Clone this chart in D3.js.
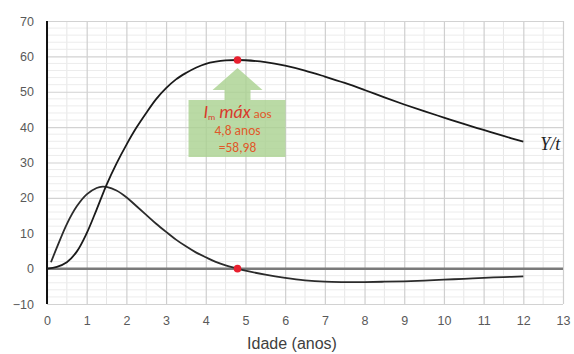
<!DOCTYPE html>
<html>
<head>
<meta charset="utf-8">
<script src="https://cdn.jsdelivr.net/npm/d3@7"></script>
<style>
  html, body { margin: 0; padding: 0; background: #fff; }
  svg { display: block; }
</style>
</head>
<body>
<svg id="chart" width="574" height="354"></svg>
<script>
// Incremento médio (Y/t) ao longo da idade
const ageYt = [0, 0.25, 0.5, 0.75, 1.0, 1.25, 1.5, 1.75, 2.0, 2.25, 2.5, 2.75, 3.0, 3.25, 3.5, 3.75, 4.0, 4.25, 4.5, 4.8,
               5.0, 5.5, 6.0, 6.5, 7.0, 7.5, 8.0, 8.5, 9.0, 9.5, 10.0, 10.5, 11.0, 11.5, 12.0];
const valYt = [0, 0.5, 1.8, 4.8, 10.0, 16.7, 23.7, 29.7, 35.0, 39.8, 44.0, 47.9, 51.0, 53.5, 55.3, 56.8, 57.9, 58.5, 58.85, 58.98,
               58.9, 58.4, 57.4, 56.0, 54.3, 52.5, 50.5, 48.4, 46.4, 44.5, 42.7, 40.9, 39.2, 37.5, 35.9];

// Variação do incremento médio (derivada de Y/t)
const ageDer = [0.1, 0.25, 0.5, 0.75, 1.0, 1.25, 1.4, 1.5, 1.75, 2.0, 2.25, 2.5, 2.75, 3.0, 3.25, 3.5, 3.75, 4.0, 4.25, 4.5, 4.8,
                5.0, 5.5, 6.0, 6.5, 7.0, 7.5, 8.0, 8.5, 9.0, 9.5, 10.0, 10.5, 11.0, 11.5, 12.0];
const valDer = [1.8, 6.0, 12.6, 17.6, 21.0, 22.8, 23.2, 23.1, 22.1, 20.2, 17.7, 15.2, 12.7, 10.4, 8.2, 6.3, 4.6, 3.2, 1.9, 0.9, 0,
                -0.6, -1.7, -2.6, -3.3, -3.7, -3.8, -3.8, -3.7, -3.6, -3.4, -3.1, -2.9, -2.6, -2.4, -2.2];

// Máximo do incremento médio
const peakAge = 4.8;
const peakVal = 58.98;

const xTicks = [0, 1, 2, 3, 4, 5, 6, 7, 8, 9, 10, 11, 12, 13];
const yTicks = [-10, 0, 10, 20, 30, 40, 50, 60, 70];

const svg = d3.select("#chart");
const x = d3.scaleLinear().domain([0, 13]).range([47, 563]);
const y = d3.scaleLinear().domain([-10, 70]).range([304, 21]);

const fmt = v => String(v).replace(".", ",");

// grade secundária
const minorX = d3.range(0.5, 13, 1);
const minorY = d3.range(-10, 70, 2).filter(v => v % 10 !== 0);
svg.append("g").selectAll("line").data(minorX).join("line")
  .attr("x1", d => x(d)).attr("x2", d => x(d)).attr("y1", y(70)).attr("y2", y(-10))
  .attr("stroke", "#e6e6e6").attr("stroke-width", 1);
svg.append("g").selectAll("line").data(minorY).join("line")
  .attr("x1", x(0)).attr("x2", x(13)).attr("y1", d => y(d)).attr("y2", d => y(d))
  .attr("stroke", "#ececec").attr("stroke-width", 1);

// grade principal via eixos
svg.append("g")
  .attr("transform", `translate(0,${y(-10)})`)
  .call(d3.axisBottom(x).tickValues(xTicks).tickSize(-(y(-10) - y(70))).tickFormat(""))
  .call(g => g.select(".domain").remove())
  .call(g => g.selectAll("line").attr("stroke", "#cfcfcf").attr("stroke-width", 1.2));
svg.append("g")
  .attr("transform", `translate(${x(0)},0)`)
  .call(d3.axisLeft(y).tickValues(yTicks).tickSize(-(x(13) - x(0))).tickFormat(""))
  .call(g => g.select(".domain").remove())
  .call(g => g.selectAll("line").attr("stroke", "#d2d2d2").attr("stroke-width", 1.2));

// rótulos dos eixos
svg.append("g")
  .attr("transform", `translate(0,${y(-10)})`)
  .call(d3.axisBottom(x).tickValues(xTicks).tickSize(0).tickPadding(12))
  .call(g => g.select(".domain").remove())
  .call(g => g.selectAll("text").attr("fill", "#595959").attr("font-size", 12.5)
    .attr("font-family", "'Liberation Sans', Arial, sans-serif"));
svg.append("g")
  .attr("transform", `translate(${x(0)},0)`)
  .call(d3.axisLeft(y).tickValues(yTicks).tickSize(0).tickPadding(13))
  .call(g => g.select(".domain").remove())
  .call(g => g.selectAll("text").attr("fill", "#595959").attr("font-size", 12.5)
    .attr("font-family", "'Liberation Sans', Arial, sans-serif"));

// linha do zero
svg.append("line")
  .attr("x1", x(0)).attr("x2", x(13)).attr("y1", y(0)).attr("y2", y(0))
  .attr("stroke", "#7a7a7a").attr("stroke-width", 2.5);

// eixo vertical
svg.append("line")
  .attr("x1", x(0)).attr("x2", x(0)).attr("y1", y(70)).attr("y2", y(-10))
  .attr("stroke", "#111").attr("stroke-width", 2);

// curvas
const line = d3.line().x(d => x(d[0])).y(d => y(d[1])).curve(d3.curveCatmullRom.alpha(0.5));
svg.append("path")
  .datum(d3.zip(ageDer, valDer))
  .attr("d", line).attr("fill", "none").attr("stroke", "#2b2b2b").attr("stroke-width", 1.8);
svg.append("path")
  .datum(d3.zip(ageYt, valYt))
  .attr("d", line).attr("fill", "none").attr("stroke", "#1a1a1a").attr("stroke-width", 1.8);

// pontos de máximo / zero
svg.append("g").selectAll("circle")
  .data([[peakAge, peakVal], [peakAge, 0]]).join("circle")
  .attr("cx", d => x(d[0])).attr("cy", d => y(d[1])).attr("r", 3.8)
  .attr("fill", "#e8202f");

// seta de anotação
const cx = x(peakAge), tipY = y(peakVal) + 8;
const headY = tipY + 22, boxTop = headY + 10, boxBot = boxTop + 57;
const arrow = d3.path();
arrow.moveTo(cx, tipY);
arrow.lineTo(cx + 25, headY);
arrow.lineTo(cx + 13, headY);
arrow.lineTo(cx + 13, boxTop);
arrow.lineTo(cx + 48, boxTop);
arrow.lineTo(cx + 48, boxBot);
arrow.lineTo(cx - 49, boxBot);
arrow.lineTo(cx - 49, boxTop);
arrow.lineTo(cx - 13, boxTop);
arrow.lineTo(cx - 13, headY);
arrow.lineTo(cx - 25, headY);
arrow.closePath();
svg.append("path").attr("d", arrow.toString())
  .attr("fill", "#a9d18e").attr("fill-opacity", 0.8);

const note = svg.append("g").attr("fill", "#d9392b").attr("text-anchor", "middle")
  .attr("font-family", "Carlito, 'Liberation Sans', Arial, sans-serif");
const t1 = note.append("text").attr("x", cx).attr("y", boxTop + 18);
t1.append("tspan").attr("font-style", "italic").attr("font-size", 18).text("I");
t1.append("tspan").attr("font-size", 9).attr("dy", 2).text("m");
t1.append("tspan").attr("font-style", "italic").attr("font-size", 18).attr("dy", -2).text(" máx");
t1.append("tspan").attr("font-size", 13).attr("fill", "#e0592a").text(" aos");
note.append("text").attr("x", cx).attr("y", boxTop + 35).attr("font-size", 13.5).attr("fill", "#e0592a")
  .text(`${fmt(peakAge)} anos`);
note.append("text").attr("x", cx).attr("y", boxTop + 52).attr("font-size", 13.5).attr("fill", "#e0592a")
  .text(`=${fmt(peakVal)}`);

// rótulo da curva
svg.append("text")
  .attr("x", x(12) + 17).attr("y", y(valYt[valYt.length - 1]) + 8)
  .attr("font-family", "'Liberation Serif', 'Times New Roman', serif")
  .attr("font-style", "italic").attr("font-size", 18).attr("fill", "#222")
  .text("Y/t");

// título do eixo x
svg.append("text")
  .attr("x", (x(0) + x(13)) / 2 - 13).attr("y", 349)
  .attr("text-anchor", "middle")
  .attr("font-family", "'Liberation Sans', Arial, sans-serif")
  .attr("font-size", 16).attr("fill", "#404040")
  .text("Idade (anos)");
</script>
</body>
</html>
